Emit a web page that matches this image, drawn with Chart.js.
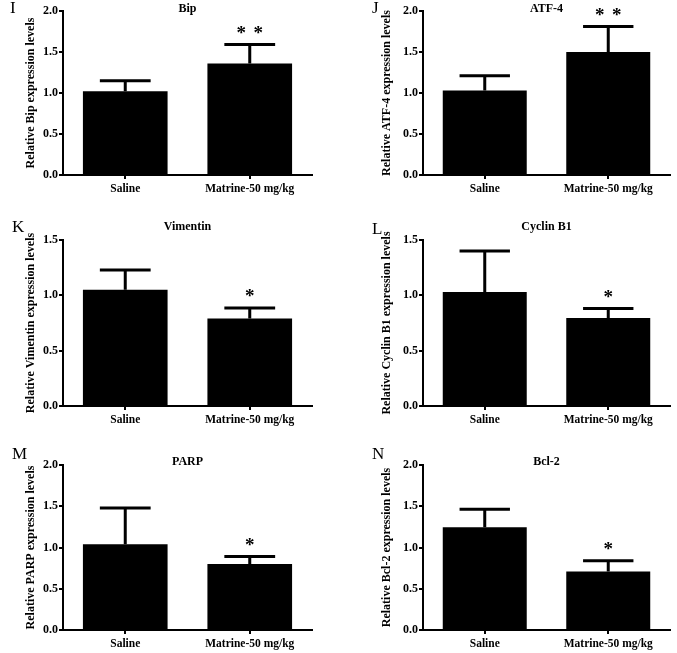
<!DOCTYPE html>
<html>
<head>
<meta charset="utf-8">
<script src="https://cdn.jsdelivr.net/npm/chart.js@4.4.0/dist/chart.umd.min.js"></script>
<style>
  body { margin: 0; background: #fff; }
  .panel { position: absolute; }
</style>
</head>
<body>
<div class="panel" style="left:0;top:0"><canvas id="chartBip" width="338" height="215"></canvas></div>
<div class="panel" style="left:338px;top:0"><canvas id="chartAtf4" width="339" height="215"></canvas></div>
<div class="panel" style="left:0;top:215px"><canvas id="chartVim" width="338" height="215"></canvas></div>
<div class="panel" style="left:338px;top:215px"><canvas id="chartCyc" width="339" height="215"></canvas></div>
<div class="panel" style="left:0;top:430px"><canvas id="chartParp" width="338" height="223"></canvas></div>
<div class="panel" style="left:338px;top:430px"><canvas id="chartBcl" width="339" height="223"></canvas></div>
<script>
// data
const categories = ['Saline', 'Matrine-50 mg/kg'];
const panelTitles = ['Bip', 'ATF-4', 'Vimentin', 'Cyclin B1', 'PARP', 'Bcl-2'];
const panelLetters = ['I', 'J', 'K', 'L', 'M', 'N'];
const yTitles = [
  'Relative Bip expression levels',
  'Relative ATF-4 expression levels',
  'Relative Vimentin expression levels',
  'Relative Cyclin B1 expression levels',
  'Relative PARP expression levels',
  'Relative Bcl-2 expression levels'
];
const yMaxes = [2.0, 2.0, 1.5, 1.5, 2.0, 2.0];

const bipMeans = [1.02, 1.36];
const bipErrors = [0.13, 0.23];
const atf4Means = [1.03, 1.50];
const atf4Errors = [0.18, 0.31];
const vimentinMeans = [1.05, 0.79];
const vimentinErrors = [0.18, 0.095];
const cyclinMeans = [1.03, 0.795];
const cyclinErrors = [0.37, 0.085];
const parpMeans = [1.04, 0.80];
const parpErrors = [0.44, 0.09];
const bclMeans = [1.245, 0.71];
const bclErrors = [0.22, 0.13];

const sigMarks = [['', '**'], ['', '**'], ['', '*'], ['', '*'], ['', '*'], ['', '*']];

const allMeans = [bipMeans, atf4Means, vimentinMeans, cyclinMeans, parpMeans, bclMeans];
const allErrors = [bipErrors, atf4Errors, vimentinErrors, cyclinErrors, parpErrors, bclErrors];

// layout of each panel (canvas pixels)
const canvasIds = ['chartBip', 'chartAtf4', 'chartVim', 'chartCyc', 'chartParp', 'chartBcl'];
const layouts = [
  { yWidth: 63, titlePad: 24, pad: { top: 11, right: 26, bottom: 18 }, titleY: 9, letterX: 10, letterY: 9 },
  { yWidth: 85, titlePad: 42, pad: { top: 11, right: 7, bottom: 18 }, titleY: 9, letterX: 34, letterY: 9 },
  { yWidth: 63, titlePad: 24, pad: { top: 25, right: 26, bottom: 2 }, titleY: 12, letterX: 12, letterY: 13 },
  { yWidth: 85, titlePad: 42, pad: { top: 25, right: 7, bottom: 2 }, titleY: 12, letterX: 34, letterY: 15 },
  { yWidth: 63, titlePad: 24, pad: { top: 35, right: 26, bottom: 1 }, titleY: 32, letterX: 12, letterY: 25 },
  { yWidth: 85, titlePad: 42, pad: { top: 35, right: 7, bottom: 1 }, titleY: 32, letterX: 34, letterY: 25 }
];

const serif = '"Liberation Serif", "Times New Roman", serif';

// error bars, stars, panel title and letter
const panelExtras = {
  id: 'panelExtras',
  afterDatasetsDraw(chart, args, opts) {
    const ctx = chart.ctx;
    const meta = chart.getDatasetMeta(0);
    const y = chart.scales.y;
    const area = chart.chartArea;
    ctx.save();
    ctx.strokeStyle = '#000';
    ctx.fillStyle = '#000';
    ctx.lineWidth = 3;
    meta.data.forEach((bar, i) => {
      const top = y.getPixelForValue(opts.means[i] + opts.errors[i]);
      const base = y.getPixelForValue(opts.means[i]);
      const half = bar.width * 0.3;
      ctx.beginPath();
      ctx.moveTo(bar.x, base);
      ctx.lineTo(bar.x, top);
      ctx.moveTo(bar.x - half, top);
      ctx.lineTo(bar.x + half, top);
      ctx.stroke();
      const mark = opts.sig[i];
      if (mark) {
        ctx.font = 'bold 19px ' + serif;
        ctx.textAlign = 'center';
        ctx.textBaseline = 'alphabetic';
        const n = mark.length;
        for (let k = 0; k < n; k++) {
          const dx = (k - (n - 1) / 2) * 17;
          ctx.fillText('*', bar.x + dx, top - 6);
        }
      }
    });
    ctx.textBaseline = 'middle';
    ctx.textAlign = 'center';
    ctx.font = 'bold 12px ' + serif;
    ctx.fillText(opts.title, (area.left + area.right) / 2, opts.titleY);
    ctx.textAlign = 'left';
    ctx.font = '17px ' + serif;
    ctx.fillText(opts.letter, opts.letterX, opts.letterY);
    ctx.restore();
  }
};

canvasIds.forEach((id, p) => {
  const lay = layouts[p];
  new Chart(document.getElementById(id), {
    type: 'bar',
    data: {
      labels: categories,
      datasets: [{
        data: allMeans[p],
        backgroundColor: '#000',
        borderWidth: 0,
        barPercentage: 0.68,
        categoryPercentage: 1
      }]
    },
    options: {
      responsive: false,
      animation: false,
      layout: { padding: { left: 0, top: lay.pad.top, right: lay.pad.right, bottom: lay.pad.bottom } },
      plugins: {
        legend: { display: false },
        tooltip: { enabled: false },
        panelExtras: {
          means: allMeans[p],
          errors: allErrors[p],
          sig: sigMarks[p],
          title: panelTitles[p],
          titleY: lay.titleY,
          letter: panelLetters[p],
          letterX: lay.letterX,
          letterY: lay.letterY
        }
      },
      scales: {
        x: {
          afterFit(scale) { scale.height = 22; },
          grid: { display: true, drawOnChartArea: false, offset: false, tickLength: 4, tickColor: '#000', lineWidth: 2 },
          border: { display: true, color: '#000', width: 2 },
          ticks: { color: '#000', padding: 3, font: { family: serif, size: 11.5, weight: 'bold' } }
        },
        y: {
          min: 0,
          max: yMaxes[p],
          afterFit(scale) { scale.width = lay.yWidth; },
          grid: { display: true, drawOnChartArea: false, tickLength: 4, tickColor: '#000', lineWidth: 2 },
          border: { display: true, color: '#000', width: 2 },
          ticks: {
            stepSize: 0.5,
            color: '#000',
            padding: 1,
            font: { family: serif, size: 12, weight: 'bold' },
            callback: v => v.toFixed(1)
          },
          title: {
            display: true,
            text: yTitles[p],
            color: '#000',
            padding: { top: lay.titlePad, bottom: 0 },
            font: { family: serif, size: 12, weight: 'bold' }
          }
        }
      }
    },
    plugins: [panelExtras]
  });
});
</script>
</body>
</html>
